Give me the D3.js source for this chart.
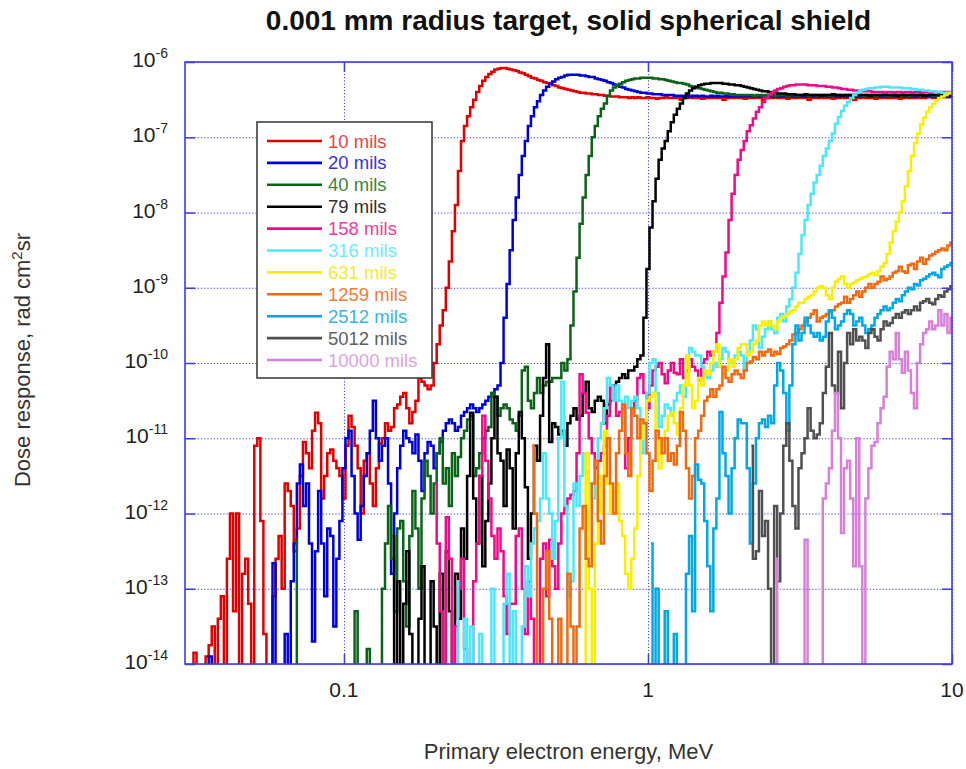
<!DOCTYPE html>
<html>
<meta charset="utf-8">
<style>
  body { margin: 0; background: #fff; }
  text { font-family: "Liberation Sans", Arial, sans-serif; }
</style>
<body>
<script src="https://d3js.org/d3.v7.min.js"></script>
<script>

// energy bins: log10(E/MeV) = logE0 + i*dLogE, i = 0..252
var logE0 = -1.52, dLogE = 0.01;

var labels = ["10 mils", "20 mils", "40 mils", "79 mils", "158 mils", "316 mils",
              "631 mils", "1259 mils", "2512 mils", "5012 mils", "10000 mils"];
var colors = ["#e00000", "#0000d8", "#0a6418", "#000000", "#f00a8a", "#4ae8fa",
              "#f8f000", "#f06a10", "#00a8e6", "#505050", "#d880d8"];
var textColors = ["#e84444", "#3434e0", "#3c843c", "#303030", "#f03c98", "#6cecfa",
                  "#f4ec2c", "#f27c34", "#34b4ea", "#606060", "#e0a2e0"];
// first bin index of each series
var starts = [2, 7, 36, 68, 82, 89, 131, 114, 153, 186, 194];

// log10(dose) per bin, -15 = nothing scored (drops off the bottom)
var mils10 = [
  -15,-13.85,-15,-15,-15,-13.9,-13.75,-13.5,-15,-13.4,          // i2
  -13.1,-15,-12.6,-12.0,-13.3,-12.0,-15,-12.8,-12.6,-13.2,      // i12
  -15,-11.1,-11.0,-12.1,-13.6,-15,-15,-13.1,-12.6,-12.3,        // i22
  -13.0,-11.6,-11.7,-11.9,-12.5,-12.2,-11.5,-11.05,-11.2,-11.4, // i32
  -10.9,-10.66,-10.8,-11.8,-11.5,-11.2,-11.15,-11.3,-11.4,-11.5,
  -11.8,-11.1,-10.7,-10.85,-11.1,-11.4,-12.0,-11.3,-11.2,-11.6, // i52
  -11.9,-11.4,-11.07,-11.0,-10.8,-10.9,-10.85,-10.6,-10.55,-10.45,
  -10.4,-10.6,-10.8,-10.65,-10.5,-10.2,-10.25,-10.3,-10.35,-10.3, // i72
  -10.0,-9.75,-9.5,-9.3,-9.0,-8.65,-8.25,-7.9,-7.45,-7.05,
  -6.85,-6.72,-6.6,-6.5,-6.4,-6.32,-6.25,-6.2,-6.16,-6.13,      // i92
  -6.1,-6.09,-6.08,-6.08,-6.09,-6.1,-6.11,-6.12,-6.14,-6.15,
  -6.17,-6.19,-6.21,-6.22,-6.24,-6.25,-6.27,-6.28,-6.29,-6.31,  // i112
  -6.32,-6.34,-6.35,-6.36,-6.37,-6.38,-6.39,-6.40,-6.41,-6.41,
  -6.42,-6.42,-6.43,-6.43,-6.44,-6.44,-6.45,-6.45,-6.46,-6.46,  // i132
  -6.46,-6.47,-6.47,-6.47,-6.48,-6.47,-6.48,-6.47,-6.48,-6.48,
  -6.47,-6.48,-6.48,-6.49,-6.48,-6.48,-6.47,-6.48,-6.48,-6.48,  // i152
  -6.48,-6.5,-6.48,-6.48,-6.47,-6.48,-6.48,-6.48,-6.49,-6.48,
  -6.48,-6.48,-6.47,-6.48,-6.48,-6.5,-6.48,-6.48,-6.48,-6.47,   // i172
  -6.48,-6.48,-6.49,-6.48,-6.48,-6.48,-6.47,-6.48,-6.5,-6.48,
  -6.48,-6.48,-6.47,-6.48,-6.48,-6.48,-6.49,-6.48,-6.48,-6.48,  // i192
  -6.47,-6.48,-6.48,-6.5,-6.48,-6.48,-6.48,-6.47,-6.48,-6.48,
  -6.48,-6.49,-6.48,-6.48,-6.47,-6.48,-6.48,-6.48,-6.5,-6.48,   // i212
  -6.48,-6.47,-6.48,-6.48,-6.48,-6.49,-6.48,-6.48,-6.47,-6.48,
  -6.48,-6.48,-6.48,-6.49,-6.48,-6.47,-6.48,-6.48,-6.48,-6.47,  // i232
  -6.48,-6.48,-6.47,-6.47,-6.48,-6.47,-6.47,-6.47,-6.47,-6.47,
  -6.47                                                         // i252
];
var mils20 = [
  -15,-13.9,-15,-15,-15,-15,-15,-15,-15,-15,                    // i7
  -15,-15,-15,-15,-15,-15,-15,-15,-15,-15,
  -15,-15,-12.66,-15,-15,-15,-13.6,-15,-12.9,-12.4,             // i27
  -11.6,-11.35,-11.9,-11.6,-12.4,-13.7,-12.5,-11.7,-12.4,-13.1,
  -12.2,-12.3,-13.5,-12.6,-12.1,-11.4,-11.0,-10.9,-11.5,-12.0,  // i47
  -12.35,-11.9,-11.5,-11.2,-10.9,-10.5,-11.0,-11.3,-11.1,-11.0,
  -11.6,-12.8,-12.0,-11.4,-11.1,-10.9,-11.0,-11.05,-11.2,-10.95, // i67
  -11.3,-11.7,-11.2,-11.05,-11.1,-11.4,-11.2,-11.05,-10.9,-10.8,
  -10.75,-10.8,-10.9,-10.85,-10.7,-10.65,-10.6,-10.55,-10.6,-10.65, // i87
  -10.6,-10.55,-10.5,-10.45,-10.4,-10.35,-10.3,-10.0,-9.4,-8.95,
  -8.5,-8.1,-7.8,-7.5,-7.25,-7.05,-6.85,-6.72,-6.6,-6.52,       // i107
  -6.44,-6.38,-6.33,-6.29,-6.26,-6.23,-6.21,-6.2,-6.18,-6.17,
  -6.17,-6.17,-6.17,-6.18,-6.18,-6.19,-6.2,-6.2,-6.22,-6.23,    // i127
  -6.24,-6.25,-6.27,-6.28,-6.3,-6.31,-6.33,-6.34,-6.36,-6.37,
  -6.38,-6.39,-6.40,-6.41,-6.41,-6.42,-6.42,-6.43,-6.43,-6.43,  // i147
  -6.44,-6.44,-6.44,-6.44,-6.45,-6.45,-6.45,-6.45,-6.45,-6.46,
  -6.45,-6.45,-6.46,-6.45,-6.46,-6.46,-6.45,-6.46,-6.45,-6.46,  // i167
  -6.46,-6.45,-6.46,-6.46,-6.46,-6.45,-6.46,-6.46,-6.45,-6.46,
  -6.46,-6.46,-6.45,-6.46,-6.46,-6.45,-6.46,-6.46,-6.46,-6.45,  // i187
  -6.46,-6.46,-6.45,-6.46,-6.46,-6.46,-6.45,-6.46,-6.46,-6.45,
  -6.46,-6.46,-6.46,-6.45,-6.46,-6.46,-6.45,-6.46,-6.46,-6.46,  // i207
  -6.45,-6.46,-6.46,-6.45,-6.46,-6.46,-6.46,-6.45,-6.46,-6.46,
  -6.45,-6.46,-6.46,-6.46,-6.45,-6.46,-6.46,-6.45,-6.46,-6.46,  // i227
  -6.46,-6.45,-6.46,-6.46,-6.45,-6.46,-6.46,-6.46,-6.45,-6.46,
  -6.46,-6.45,-6.46,-6.46,-6.46,-6.46                           // i247
];
var mils40 = [
  -12.35,-15,-15,-15,-15,-15,-15,-15,-15,-15,                   // i36
  -15,-15,-15,-15,-15,-15,-15,-15,-15,-15,
  -13.3,-15,-15,-15,-13.8,-15,-15,-15,-15,-13.0,                // i56
  -12.4,-11.9,-12.6,-13.3,-12.2,-12.1,-12.9,-13.5,-12.3,-11.7,
  -12.2,-13.0,-11.8,-11.3,-11.5,-12.0,-11.6,-11.2,-11.0,-11.6,  // i76
  -11.4,-11.9,-11.2,-11.5,-11.25,-11.0,-10.9,-10.75,-10.7,-11.5,
  -11.4,-11.2,-11.0,-10.9,-10.85,-10.4,-10.45,-10.7,-10.6,-10.55, // i96
  -10.6,-10.75,-10.8,-10.9,-10.7,-10.1,-10.05,-10.5,-10.6,-10.4,
  -10.2,-10.4,-10.3,-10.25,-10.25,-10.2,-10.2,-10.2,-10.0,-10.1, // i116
  -9.95,-9.5,-9.05,-8.6,-8.15,-7.8,-7.5,-7.25,-7.0,-6.85,
  -6.72,-6.62,-6.55,-6.45,-6.38,-6.34,-6.31,-6.29,-6.27,-6.25,  // i136
  -6.24,-6.23,-6.22,-6.22,-6.21,-6.21,-6.21,-6.21,-6.22,-6.22,
  -6.23,-6.23,-6.24,-6.25,-6.26,-6.27,-6.28,-6.28,-6.29,-6.30,  // i156
  -6.32,-6.33,-6.34,-6.35,-6.36,-6.37,-6.38,-6.39,-6.40,-6.41,
  -6.41,-6.42,-6.42,-6.43,-6.43,-6.44,-6.44,-6.44,-6.44,-6.44,  // i176
  -6.44,-6.45,-6.44,-6.44,-6.45,-6.44,-6.44,-6.44,-6.45,-6.44,
  -6.44,-6.44,-6.45,-6.44,-6.44,-6.45,-6.44,-6.44,-6.44,-6.45,  // i196
  -6.44,-6.44,-6.45,-6.44,-6.44,-6.44,-6.45,-6.44,-6.44,-6.44,
  -6.45,-6.44,-6.44,-6.44,-6.45,-6.44,-6.44,-6.45,-6.44,-6.44,  // i216
  -6.44,-6.45,-6.44,-6.44,-6.44,-6.45,-6.44,-6.44,-6.44,-6.45,
  -6.44,-6.44,-6.45,-6.44,-6.44,-6.44,-6.45,-6.44,-6.44,-6.44,  // i236
  -6.45,-6.44,-6.44,-6.44,-6.45,-6.44,-6.44                     // i246
];
var mils79 = [
  -12.3,-15,-12.9,-15,-13.2,-12.5,-13.6,-15,-15,-13.4,          // i68
  -12.7,-15,-15,-12.9,-13.5,-15,-12.8,-15,-12.5,-13.3,
  -15,-12.8,-13.4,-12.2,-12.6,-11.5,-10.66,-11.8,-12.4,-11.5,   // i88
  -12.7,-12.1,-11.6,-11.0,-10.45,-11.2,-11.3,-11.9,-11.15,-11.4,
  -12.2,-11.2,-10.65,-11.0,-11.65,-12.6,-12.0,-11.1,-11.3,-10.7, // i108
  -10.2,-9.75,-11.05,-10.8,-10.85,-10.95,-10.9,-11.1,-10.8,-10.7,
  -10.6,-10.75,-10.7,-10.4,-10.25,-10.6,-10.65,-10.5,-10.45,-10.5, // i128
  -10.8,-10.55,-10.5,-10.3,-10.25,-10.2,-10.15,-10.2,-10.1,-10.1,
  -10.05,-9.95,-9.9,-9.4,-8.75,-8.2,-7.85,-7.55,-7.3,-7.15,     // i148
  -7.05,-6.92,-6.8,-6.7,-6.62,-6.55,-6.48,-6.42,-6.38,-6.35,
  -6.33,-6.31,-6.3,-6.29,-6.29,-6.28,-6.28,-6.28,-6.28,-6.29,   // i168
  -6.29,-6.3,-6.3,-6.31,-6.31,-6.32,-6.33,-6.34,-6.35,-6.36,
  -6.37,-6.38,-6.39,-6.39,-6.40,-6.41,-6.41,-6.42,-6.42,-6.42,  // i188
  -6.43,-6.43,-6.43,-6.44,-6.44,-6.44,-6.43,-6.44,-6.44,-6.44,
  -6.44,-6.45,-6.44,-6.44,-6.44,-6.43,-6.44,-6.44,-6.45,-6.44,  // i208
  -6.44,-6.44,-6.44,-6.43,-6.44,-6.44,-6.44,-6.45,-6.44,-6.44,
  -6.44,-6.44,-6.43,-6.44,-6.44,-6.44,-6.45,-6.44,-6.44,-6.44,  // i228
  -6.44,-6.43,-6.44,-6.44,-6.44,-6.45,-6.44,-6.44,-6.44,-6.44,
  -6.43,-6.44,-6.44,-6.44,-6.44                                 // i248
];
var mils158 = [
  -11.6,-12.4,-13.3,-15,-12.05,-12.6,-15,-13.5,-13.0,-12.6,     // i82
  -13.8,-15,-15,-12.9,-12.4,-11.5,-10.7,-11.3,-11.8,-12.3,
  -12.6,-12.2,-12.5,-13.1,-13.6,-13.2,-13.2,-12.3,-12.2,-13.0,  // i102
  -13.6,-12.9,-13.4,-15,-15,-12.6,-12.4,-13.1,-12.35,-12.7,
  -13.0,-12.4,-12.0,-11.9,-11.8,-11.75,-11.7,-11.2,-10.15,-10.4, // i122
  -10.66,-11.0,-11.2,-11.4,-11.3,-11.2,-11.1,-10.7,-10.3,-10.5,
  -10.7,-10.65,-10.6,-11.4,-11.0,-10.6,-10.5,-10.2,-10.15,-10.4, // i142
  -10.6,-10.3,-10.1,-10.05,-10.0,-10.15,-10.27,-10.1,-10.0,-10.13,
  -10.15,-9.95,-10.2,-10.1,-9.95,-10.05,-10.1,-10.23,-10.0,-9.95, // i162
  -9.85,-9.9,-9.85,-9.6,-9.2,-8.85,-8.53,-8.1,-7.75,-7.5,
  -7.3,-7.17,-7.05,-6.92,-6.84,-6.75,-6.66,-6.6,-6.53,-6.48,    // i182
  -6.44,-6.41,-6.38,-6.36,-6.35,-6.33,-6.32,-6.31,-6.31,-6.30,
  -6.30,-6.30,-6.30,-6.31,-6.31,-6.31,-6.32,-6.32,-6.32,-6.33,  // i202
  -6.33,-6.34,-6.34,-6.35,-6.36,-6.36,-6.37,-6.37,-6.38,-6.38,
  -6.38,-6.39,-6.39,-6.39,-6.40,-6.40,-6.40,-6.40,-6.41,-6.40,  // i222
  -6.40,-6.41,-6.40,-6.40,-6.41,-6.40,-6.40,-6.41,-6.40,-6.40,
  -6.41,-6.40,-6.40,-6.41,-6.40,-6.40,-6.41,-6.40,-6.40,-6.40,  // i242
  -6.40                                                         // i252
];
var mils316 = [
  -12.9,-15,-15,-13.4,-15,-13.5,-15,-15,-13.6,-15,              // i89
  -15,-15,-13.0,-15,-15,-15,-13.2,-12.8,-15,-13.3,
  -15,-15,-13.5,-12.7,-13.1,-12.4,-12.2,-12.1,-11.8,-11.2,      // i109
  -11.8,-12.0,-12.6,-12.1,-11.0,-10.25,-11.9,-13.1,-12.9,-11.6,
  -11.9,-11.5,-11.2,-11.45,-11.6,-11.8,-11.3,-11.0,-10.8,-10.6, // i129
  -10.2,-10.3,-10.5,-10.3,-10.5,-10.8,-10.45,-10.6,-10.5,-10.45,
  -10.6,-11.2,-10.8,-10.4,-10.0,-9.95,-10.4,-10.85,-10.7,-10.55, // i149
  -10.6,-10.7,-10.5,-10.4,-10.3,-10.45,-10.0,-9.8,-9.85,-9.9,
  -9.9,-10.05,-10.15,-10.2,-10.1,-10.0,-10.05,-9.95,-9.8,-9.85, // i169
  -9.95,-10.0,-9.9,-9.85,-9.9,-10.1,-9.85,-9.7,-9.5,-9.55,
  -9.8,-9.65,-9.55,-9.45,-9.55,-9.6,-9.4,-9.35,-9.45,-9.25,     // i189
  -9.15,-9.0,-8.8,-8.55,-8.3,-8.1,-7.9,-7.75,-7.6,-7.5,
  -7.38,-7.25,-7.15,-7.05,-6.95,-6.82,-6.73,-6.65,-6.58,-6.53,  // i209
  -6.48,-6.44,-6.41,-6.38,-6.37,-6.36,-6.35,-6.35,-6.34,-6.34,
  -6.33,-6.33,-6.33,-6.34,-6.34,-6.34,-6.34,-6.35,-6.35,-6.35,  // i229
  -6.36,-6.36,-6.37,-6.37,-6.38,-6.38,-6.39,-6.39,-6.40,-6.40,
  -6.41,-6.41,-6.41,-6.41                                       // i249
];
var mils631 = [
  -15,-11.2,-13.0,-15,-12.4,-11.5,-12.0,-10.9,-11.6,-12.0,      // i131
  -11.7,-11.6,-12.1,-12.3,-12.8,-13.0,-12.6,-12.2,-11.5,-11.0,
  -10.8,-10.5,-10.45,-10.4,-10.9,-11.4,-11.0,-10.9,-10.7,-10.66, // i151
  -10.8,-10.95,-10.6,-10.3,-9.9,-10.3,-10.6,-10.5,-10.2,-10.3,
  -10.1,-10.15,-10.0,-9.85,-9.75,-10.05,-10.15,-10.1,-9.95,-10.05, // i171
  -9.95,-9.8,-9.75,-9.75,-9.9,-9.85,-9.75,-9.7,-9.5,-9.45,
  -9.5,-9.45,-9.5,-9.55,-9.45,-9.4,-9.38,-9.35,-9.32,-9.3,      // i191
  -9.25,-9.2,-9.2,-9.15,-9.12,-9.1,-9.05,-9.0,-8.98,-9.0,
  -9.1,-9.15,-9.0,-8.92,-8.88,-8.85,-8.95,-9.0,-8.95,-8.93,     // i211
  -8.9,-8.88,-8.86,-8.85,-8.82,-8.8,-8.83,-8.78,-8.72,-8.67,
  -8.55,-8.4,-8.25,-8.12,-8.0,-7.85,-7.65,-7.45,-7.25,-7.08,    // i231
  -6.95,-6.83,-6.74,-6.66,-6.6,-6.55,-6.51,-6.48,-6.46,-6.44,
  -6.42,-6.41                                                   // i251
];
var mils1259 = [
  -11.1,-12.0,-15,-15,-13.0,-12.5,-13.4,-15,-15,-13.4,          // i114
  -15,-15,-12.8,-13.5,-15,-13.5,-12.2,-11.9,-12.6,-12.7,
  -11.6,-11.3,-12.1,-12.4,-11.5,-11.0,-11.6,-12.0,-11.2,-10.9,  // i134
  -10.55,-11.2,-11.5,-10.6,-10.7,-11.0,-10.75,-10.8,-11.2,-11.7,
  -11.3,-10.9,-11.0,-11.2,-11.0,-11.3,-11.2,-11.35,-11.1,-10.65, // i154
  -10.9,-11.4,-11.8,-11.5,-11.0,-10.9,-10.7,-10.5,-10.45,-10.35,
  -10.45,-10.35,-10.3,-10.05,-10.2,-10.25,-10.15,-10.1,-10.15,-10.2, // i174
  -10.1,-10.0,-9.98,-9.92,-9.95,-9.85,-9.9,-9.85,-9.82,-9.9,
  -9.85,-9.88,-9.8,-9.78,-9.75,-9.7,-9.62,-9.6,-9.55,-9.5,      // i194
  -9.45,-9.4,-9.35,-9.3,-9.45,-9.4,-9.38,-9.35,-9.32,-9.3,
  -9.25,-9.22,-9.2,-9.12,-9.2,-9.15,-9.1,-9.05,-9.12,-9.05,     // i214
  -9.0,-8.95,-9.0,-8.95,-8.92,-8.85,-8.9,-8.88,-8.85,-8.8,
  -8.78,-8.72,-8.78,-8.8,-8.7,-8.68,-8.75,-8.65,-8.6,-8.68,     // i234
  -8.62,-8.57,-8.55,-8.52,-8.5,-8.48,-8.5,-8.44,-8.4
];
var mils2512 = [
  -12.4,-15,-13.0,-15,-15,-13.3,-15,-15,-13.6,-15,              // i153
  -15,-15,-12.8,-12.3,-13.3,-11.35,-11.55,-11.6,-12.1,-12.7,
  -13.3,-12.2,-11.8,-10.65,-11.2,-11.5,-12.0,-11.4,-11.0,-10.75, // i173
  -10.8,-10.8,-11.4,-12.4,-11.6,-11.0,-10.8,-10.75,-10.85,-10.7,
  -10.8,-10.3,-10.0,-10.1,-10.4,-10.9,-10.3,-9.75,-9.5,-9.7,    // i193
  -9.6,-9.4,-9.5,-9.6,-9.65,-9.6,-9.7,-9.65,-9.45,-9.3,
  -9.4,-9.55,-9.5,-9.45,-9.35,-9.3,-9.35,-9.5,-9.45,-9.4,       // i213
  -9.5,-9.6,-9.55,-9.5,-9.4,-9.35,-9.3,-9.25,-9.3,-9.27,
  -9.2,-9.15,-9.18,-9.1,-9.05,-9.0,-9.02,-8.95,-8.97,-8.9,      // i233
  -8.88,-8.85,-8.82,-8.8,-8.83,-8.86,-8.75,-8.72,-8.7,-8.67
];
var mils5012 = [
  -11.1,-12.6,-12.5,-11.7,-12.3,-12.1,-13.0,-15,-11.9,-12.9,    // i186
  -12.0,-11.1,-10.8,-11.3,-11.9,-12.2,-11.4,-11.2,-11.0,-10.6,
  -10.9,-11.0,-10.95,-10.8,-10.4,-10.05,-9.6,-10.3,-10.4,-9.85, // i206
  -10.6,-10.0,-9.6,-9.75,-9.55,-9.7,-9.65,-9.7,-9.8,-9.6,
  -9.55,-9.65,-9.7,-9.55,-9.45,-9.5,-9.47,-9.4,-9.35,-9.4,      // i226
  -9.33,-9.3,-9.35,-9.3,-9.25,-9.3,-9.2,-9.18,-9.15,-9.2,
  -9.22,-9.15,-9.1,-9.12,-9.05,-9.02,-8.98                      // i246
];
var mils10000 = [
  -12.6,-15,-15,-15,-15,-15,-15,-15,-15,-15,                    // i194
  -12.35,-15,-15,-15,-15,-15,-11.8,-11.6,-11.4,-10.9,
  -10.4,-11.0,-12.26,-11.4,-11.3,-11.8,-12.7,-11.0,-12.7,-15,   // i214
  -11.8,-11.4,-11.1,-11.05,-10.8,-10.6,-10.45,-10.05,-9.85,-9.95,
  -9.6,-9.95,-10.13,-9.85,-10.1,-10.4,-10.6,-10.0,-9.75,-9.6,   // i234
  -9.55,-9.45,-9.55,-9.5,-9.3,-9.5,-9.35,-9.6,-9.4
];
var allSeries = [mils10, mils20, mils40, mils79, mils158, mils316,
                 mils631, mils1259, mils2512, mils5012, mils10000];

var yTicks = [1e-14, 1e-13, 1e-12, 1e-11, 1e-10, 1e-9, 1e-8, 1e-7, 1e-6];
var yExp = [-14, -13, -12, -11, -10, -9, -8, -7, -6];
var xTicks = [0.1, 1, 10];
var xTickLabels = ["0.1", "1", "10"];

var width = 966, height = 769;
var plotL = 185, plotR = 952, plotT = 62, plotB = 664;
var axisBlue = "#3c3cee";

var svg = d3.select("body")
  .append("svg")
  .attr("width", width)
  .attr("height", height);

var x = d3.scaleLog().domain([0.03, 10]).range([plotL, plotR]);
var y = d3.scaleLog().domain([1e-14, 1e-6]).range([plotB, plotT]);

// dotted grid
svg.append("g")
  .attr("transform", "translate(" + plotL + ",0)")
  .call(d3.axisLeft(y).tickValues(yTicks).tickSize(-(plotR - plotL)).tickFormat(""))
  .call(function(g) { g.select(".domain").remove(); })
  .selectAll("line")
  .attr("stroke", axisBlue)
  .attr("stroke-dasharray", "1.2,2");
svg.append("g")
  .attr("transform", "translate(0," + plotB + ")")
  .call(d3.axisBottom(x).tickValues(xTicks).tickSize(-(plotB - plotT)).tickFormat(""))
  .call(function(g) { g.select(".domain").remove(); })
  .selectAll("line")
  .attr("stroke", axisBlue)
  .attr("stroke-dasharray", "1.2,2");

// curves
svg.append("clipPath").attr("id", "plotclip")
  .append("rect")
  .attr("x", plotL).attr("y", plotT)
  .attr("width", plotR - plotL).attr("height", plotB - plotT);

var line = d3.line()
  .x(function(d) { return x(d.e); })
  .y(function(d) { return y(d.v); })
  .curve(d3.curveStep);

var curves = svg.append("g").attr("clip-path", "url(#plotclip)");
allSeries.forEach(function(vals, k) {
  var pts = vals.map(function(v, j) {
    return { e: Math.pow(10, logE0 + (starts[k] + j) * dLogE), v: Math.pow(10, v) };
  });
  curves.append("path")
    .datum(pts)
    .attr("fill", "none")
    .attr("stroke", colors[k])
    .attr("stroke-width", 2.5)
    .attr("d", line);
});

// inward solid ticks on all four sides
function styleTicks(g) {
  g.select(".domain").remove();
  g.selectAll("line").attr("stroke", axisBlue).attr("stroke-width", 1.5);
}
svg.append("g").attr("transform", "translate(" + plotL + ",0)")
  .call(d3.axisLeft(y).tickValues(yTicks).tickSize(-10).tickFormat("")).call(styleTicks);
svg.append("g").attr("transform", "translate(" + plotR + ",0)")
  .call(d3.axisRight(y).tickValues(yTicks).tickSize(-10).tickFormat("")).call(styleTicks);
svg.append("g").attr("transform", "translate(0," + plotB + ")")
  .call(d3.axisBottom(x).tickValues(xTicks).tickSize(-10).tickFormat("")).call(styleTicks);
svg.append("g").attr("transform", "translate(0," + plotT + ")")
  .call(d3.axisTop(x).tickValues(xTicks).tickSize(-10).tickFormat("")).call(styleTicks);

// frame
svg.append("rect")
  .attr("x", plotL).attr("y", plotT)
  .attr("width", plotR - plotL).attr("height", plotB - plotT)
  .attr("fill", "none")
  .attr("stroke", axisBlue)
  .attr("stroke-width", 1.6);

// y tick labels 10^n
yTicks.forEach(function(v, k) {
  var t = svg.append("text")
    .attr("x", 168)
    .attr("y", y(v) + 5)
    .attr("text-anchor", "end")
    .attr("fill", "#222")
    .style("font-size", "21px");
  t.append("tspan").text("10");
  t.append("tspan")
    .attr("dy", -9)
    .style("font-size", "14px")
    .text(yExp[k]);
});

// x tick labels
xTicks.forEach(function(v, k) {
  svg.append("text")
    .attr("x", x(v))
    .attr("y", 697)
    .attr("text-anchor", "middle")
    .attr("fill", "#222")
    .style("font-size", "21px")
    .text(xTickLabels[k]);
});

// title and axis titles
svg.append("text")
  .attr("x", (plotL + plotR) / 2)
  .attr("y", 30)
  .attr("text-anchor", "middle")
  .attr("fill", "#111")
  .style("font-size", "28px")
  .style("font-weight", "bold")
  .text("0.001 mm radius target, solid spherical shield");

svg.append("text")
  .attr("x", (plotL + plotR) / 2)
  .attr("y", 759)
  .attr("text-anchor", "middle")
  .attr("fill", "#333")
  .style("font-size", "22px")
  .text("Primary electron energy, MeV");

var yl = svg.append("text")
  .attr("transform", "translate(30,360) rotate(-90)")
  .attr("text-anchor", "middle")
  .attr("fill", "#333")
  .style("font-size", "22px");
yl.append("tspan").text("Dose response, rad cm");
yl.append("tspan").attr("dy", -8).style("font-size", "15px").text("2");
yl.append("tspan").attr("dy", 8).text("sr");

// legend
var legend = svg.append("g");
legend.append("rect")
  .attr("x", 257).attr("y", 122)
  .attr("width", 175).attr("height", 256)
  .attr("fill", "#fff")
  .attr("stroke", "#333")
  .attr("stroke-width", 1.5);
labels.forEach(function(name, k) {
  var ly = 141 + k * 21.9;
  legend.append("line")
    .attr("x1", 267).attr("x2", 322)
    .attr("y1", ly).attr("y2", ly)
    .attr("stroke", colors[k])
    .attr("stroke-width", 2.6);
  legend.append("text")
    .attr("x", 328)
    .attr("y", ly + 6.5)
    .attr("fill", textColors[k])
    .style("font-size", "18.5px")
    .text(name);
});

</script>
</body>
</html>
